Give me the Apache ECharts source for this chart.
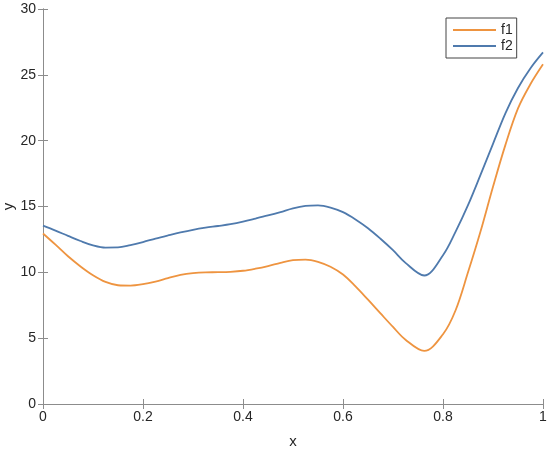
<!DOCTYPE html>
<html>
<head>
<meta charset="utf-8">
<script src="https://cdn.jsdelivr.net/npm/echarts@6/dist/echarts.min.js"></script>
<style>html,body{margin:0;padding:0;background:#fff}#c{width:550px;height:452px}</style>
</head>
<body>
<div id="c"></div>
<script>
const xs = [0, 0.025, 0.05, 0.075, 0.1, 0.125, 0.15, 0.175, 0.2, 0.225, 0.25, 0.275, 0.3, 0.325, 0.35, 0.375, 0.4, 0.425, 0.45, 0.475,
            0.5, 0.525, 0.55, 0.575, 0.6, 0.625, 0.65, 0.675, 0.7, 0.725, 0.7625, 0.8, 0.825, 0.85, 0.875, 0.9, 0.925, 0.95, 0.975, 1.0];
const f1 = [12.95, 12.1, 11.22, 10.45, 9.78, 9.27, 9.02, 8.99, 9.1, 9.3, 9.56, 9.8, 9.94, 10.0, 10.01, 10.04, 10.12, 10.28, 10.48, 10.72,
            10.92, 10.97, 10.8, 10.42, 9.83, 8.93, 7.92, 6.88, 5.85, 4.88, 4.03, 5.3, 7.1, 10.0, 13.1, 16.5, 19.7, 22.45, 24.3, 25.8];
const f2 = [13.55, 13.17, 12.77, 12.38, 12.05, 11.88, 11.89, 12.07, 12.3, 12.56, 12.8, 13.03, 13.23, 13.39, 13.52, 13.66, 13.85, 14.08, 14.32, 14.58,
            14.86, 15.04, 15.08, 14.92, 14.57, 14.02, 13.35, 12.55, 11.68, 10.72, 9.76, 11.3, 13.07, 15.1, 17.4, 19.76, 22.1, 24.0, 25.5, 26.7];
const seriesNames = ['f1', 'f2'];
const xTicks = [0, 0.2, 0.4, 0.6, 0.8, 1];
const yTicks = [0, 5, 10, 15, 20, 25, 30];

const chart = echarts.init(document.getElementById('c'));
const axisColor = '#8c8c8c';
const labelColor = '#262626';
const font = 'Liberation Sans, Arial, Helvetica, sans-serif';
function pair(arr) { return xs.map((x, i) => [x, arr[i]]); }
const baseAxis = {
  axisLine: { show: true, lineStyle: { color: axisColor, width: 1 } },
  axisTick: { show: true, inside: true, length: 5, lineStyle: { color: axisColor } },
  splitLine: { show: false }
};
chart.setOption({
  animation: false,
  backgroundColor: '#fff',
  grid: { left: 43, right: 7, top: 9, bottom: 48, containLabel: false, outerBoundsMode: 'none' },
  legend: {
    orient: 'vertical', left: 446, top: 18,
    data: seriesNames,
    itemWidth: 43, itemHeight: 2, itemGap: 0,
    padding: [4, 4, 4, 6],
    borderColor: '#444', borderWidth: 1, borderRadius: 0,
    backgroundColor: '#fff',
    textStyle: { fontFamily: font, fontSize: 14, color: labelColor, lineHeight: 16 }
  },
  xAxis: [
    Object.assign({}, baseAxis, {
      type: 'value', min: 0, max: 1, interval: 0.2, position: 'bottom',
      name: 'x', nameLocation: 'middle', nameGap: 30, nameMoveOverlap: false,
      nameTextStyle: { fontFamily: font, fontSize: 15, color: labelColor },
      axisLabel: { color: labelColor, fontFamily: font, fontSize: 14, margin: 6,
        formatter: v => { const t = xTicks.find(t => Math.abs(t - v) < 1e-9); return t === undefined ? '' : String(t); } }
    }),
    Object.assign({}, baseAxis, {
      type: 'value', min: 0, max: 1, interval: 0.2, position: 'top',
      axisLabel: { show: false }
    })
  ],
  yAxis: [
    Object.assign({}, baseAxis, {
      type: 'value', min: 0, max: 30, interval: 5, position: 'left',
      name: 'y', nameLocation: 'middle', nameGap: 27, nameMoveOverlap: false,
      nameTextStyle: { fontFamily: font, fontSize: 15, color: labelColor },
      axisLabel: { color: labelColor, fontFamily: font, fontSize: 14, margin: 7,
        formatter: v => yTicks.includes(v) ? String(v) : '' }
    }),
    Object.assign({}, baseAxis, {
      type: 'value', min: 0, max: 30, interval: 5, position: 'right',
      axisLabel: { show: false }
    })
  ],
  series: [
    { name: seriesNames[0], type: 'line', data: pair(f1), smooth: 0.35, symbol: 'none',
      lineStyle: { color: '#EE9440', width: 1.8 }, itemStyle: { color: '#EE9440' } },
    { name: seriesNames[1], type: 'line', data: pair(f2), smooth: 0.35, symbol: 'none',
      lineStyle: { color: '#4F7AAD', width: 1.8 }, itemStyle: { color: '#4F7AAD' } }
  ]
});
</script>
</body>
</html>
